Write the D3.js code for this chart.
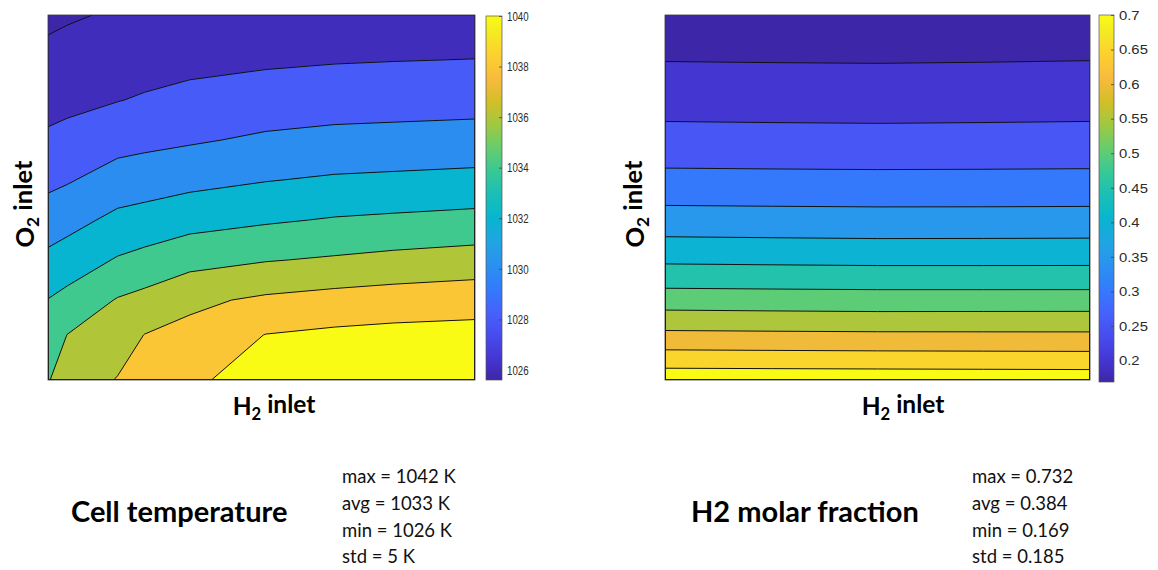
<!DOCTYPE html>
<html>
<head>
<meta charset="utf-8">
<script src="https://cdn.jsdelivr.net/npm/d3@7"></script>
<style>
  body { margin: 0; background: #fff; }
  svg { display: block; }
</style>
</head>
<body>
<svg id="chart" width="1158" height="570"></svg>
<script>
// ---------------------------------------------------------------
// Cell temperature [K] on the cell plane.
// Columns: position from the H2-inlet side (0) to the far side (1).
// Rows: position from the top edge (0) down to the O2-inlet edge (1).
// ---------------------------------------------------------------
const tempCols = [0, 0.045, 0.163, 0.226, 0.332, 0.510, 0.671, 0.809, 1];
const tempRows = [0, 0.123, 0.233, 0.342, 0.452, 0.562, 0.671, 0.781, 0.877, 1];
const tempValues = [
  [1025.6, 1025.8, 1026.2, 1026.27, 1026.4, 1026.6, 1026.7, 1026.75, 1026.8],
  [1026.5, 1026.68, 1027.12, 1027.25, 1027.47, 1027.71, 1027.87, 1027.95, 1028.03],
  [1027.36, 1027.53, 1027.94, 1028.18, 1028.54, 1028.92, 1029.13, 1029.21, 1029.30],
  [1028.31, 1028.56, 1029.30, 1029.50, 1029.78, 1030.29, 1030.54, 1030.63, 1030.77],
  [1029.54, 1029.83, 1030.83, 1031.05, 1031.43, 1031.92, 1032.24, 1032.37, 1032.55],
  [1030.94, 1031.34, 1032.49, 1032.76, 1033.29, 1033.77, 1034.15, 1034.34, 1034.59],
  [1032.48, 1032.93, 1034.16, 1034.59, 1035.32, 1035.89, 1036.22, 1036.53, 1036.85],
  [1034.05, 1034.58, 1036.13, 1036.59, 1037.60, 1038.33, 1038.72, 1038.96, 1039.20],
  [1034.86, 1036.03, 1037.02, 1038.04, 1038.54, 1040.05, 1040.38, 1040.55, 1040.64],
  [1035.9, 1036.8, 1038.1, 1038.65, 1039.6, 1041.0, 1041.8, 1042.0, 1042.0]
];
const tempLevels = [1026, 1028, 1030, 1032, 1034, 1036, 1038, 1040];
const tempColorRange = [1025.6, 1040];
const tempTicks = [1026, 1028, 1030, 1032, 1034, 1036, 1038, 1040];
const tempStats = ["max = 1042 K", "avg = 1033 K", "min = 1026 K", "std = 5 K"];

// ---------------------------------------------------------------
// H2 molar fraction [-] on the same plane.
// ---------------------------------------------------------------
const h2Cols = [0, 0.25, 0.5, 0.75, 1];
const h2Rows = [0, 0.096, 0.233, 0.370, 0.479, 0.573, 0.652, 0.721, 0.784, 0.841, 0.896, 0.945, 0.986, 1];
const h2Values = [
  [0.1700, 0.1695, 0.1690, 0.1700, 0.1710],
  [0.1913, 0.1905, 0.1900, 0.1908, 0.1920],
  [0.2293, 0.2283, 0.2276, 0.2285, 0.2297],
  [0.2776, 0.2765, 0.2757, 0.2763, 0.2772],
  [0.3270, 0.3260, 0.3252, 0.3254, 0.3259],
  [0.3777, 0.3762, 0.3750, 0.3752, 0.3758],
  [0.4288, 0.4268, 0.4250, 0.4252, 0.4257],
  [0.4777, 0.4762, 0.4750, 0.4748, 0.4747],
  [0.5286, 0.5266, 0.5250, 0.5252, 0.5255],
  [0.5786, 0.5766, 0.5750, 0.5752, 0.5755],
  [0.6289, 0.6275, 0.6263, 0.6256, 0.6250],
  [0.6773, 0.6757, 0.6743, 0.6735, 0.6727],
  [0.7183, 0.7175, 0.7168, 0.7159, 0.7150],
  [0.7320, 0.7320, 0.7320, 0.7310, 0.7300]
];
const h2Levels = [0.2, 0.25, 0.3, 0.35, 0.4, 0.45, 0.5, 0.55, 0.6, 0.65, 0.7];
const h2ColorRange = [0.169, 0.70];
const h2Ticks = [0.2, 0.25, 0.3, 0.35, 0.4, 0.45, 0.5, 0.55, 0.6, 0.65, 0.7];
const h2Stats = ["max = 0.732", "avg = 0.384", "min = 0.169", "std = 0.185"];

// Parula colour map, sampled every 4th step of the 64-entry table
const parulaStops = ["#3e26a8", "#4537d5", "#484df0", "#4563fd", "#327cfc", "#2b91ef",
  "#20a5e3", "#08b5d0", "#19bfb6", "#37c897", "#64cd6f", "#9dc943", "#d1bf27",
  "#f8ba3d", "#fccf30", "#f5e924", "#f9fb15"];
const parulaPos = [0, 4, 8, 12, 16, 20, 24, 28, 32, 36, 40, 44, 48, 52, 56, 60, 63].map(i => i / 63);
const parula = d3.scaleLinear().domain(parulaPos).range(parulaStops)
  .interpolate(d3.interpolateRgb).clamp(true);

const svg = d3.select("#chart");
const TEXT_FONT = "Lato, 'Open Sans', sans-serif";
const TICK_FONT = "'Liberation Sans', Arial, sans-serif";

function subLabel(sel, main, sub, rest) {
  sel.append("tspan").text(main);
  sel.append("tspan").attr("font-size", "0.68em").attr("dy", "0.28em").text(sub);
  sel.append("tspan").attr("dy", "-0.28em").text(rest);
}

function drawPanel(cfg) {
  const { id, box, cols, rows, values, levels, colorRange, ticks, tick, bar } = cfg;
  const g = svg.append("g").attr("id", id);
  const nx = cols.length, ny = rows.length;
  const flat = values.flat();

  // plane coordinates -> pixels
  const x = d3.scaleLinear().domain([0, 1]).range([box.x0, box.x1]);
  const y = d3.scaleLinear().domain([0, 1]).range([box.y0, box.y1]);
  // grid index -> plane coordinate (non-uniform mesh)
  const colAt = d3.scaleLinear().domain(d3.range(nx)).range(cols).clamp(true);
  const rowAt = d3.scaleLinear().domain(d3.range(ny)).range(rows).clamp(true);

  const project = d3.geoTransform({
    point(gx, gy) { this.stream.point(x(colAt(gx - 0.5)), y(rowAt(gy - 0.5))); }
  });
  const path = d3.geoPath(project);

  const color = d3.scaleLinear().domain(colorRange).range([0, 1]).clamp(true);
  const base = d3.min(flat);
  const thresholds = [base].concat(levels);
  const bands = d3.contours().size([nx, ny]).thresholds(thresholds)(flat);

  const clipId = id + "-clip";
  g.append("clipPath").attr("id", clipId).append("rect")
    .attr("x", box.x0).attr("y", box.y0)
    .attr("width", box.x1 - box.x0).attr("height", box.y1 - box.y0);

  const plot = g.append("g").attr("clip-path", `url(#${clipId})`);
  plot.selectAll("path.band").data(bands).join("path")
    .attr("class", "band")
    .attr("d", path)
    .attr("fill", d => parula(color(d.value)))
    .attr("stroke", d => parula(color(d.value)))
    .attr("stroke-width", 0.5);
  plot.selectAll("path.iso").data(bands.slice(1)).join("path")
    .attr("class", "iso")
    .attr("d", path)
    .attr("fill", "none")
    .attr("stroke", "#111")
    .attr("stroke-width", 1)
    .attr("stroke-linejoin", "round");

  g.append("rect")
    .attr("x", box.x0).attr("y", box.y0)
    .attr("width", box.x1 - box.x0).attr("height", box.y1 - box.y0)
    .attr("fill", "none").attr("stroke", "#3a3a3a").attr("stroke-width", 0.8);

  // colour bar
  const cb = d3.scaleLinear().domain(colorRange).range([bar.y1, bar.y0]);
  const gradId = id + "-grad";
  const grad = g.append("defs").append("linearGradient").attr("id", gradId)
    .attr("x1", 0).attr("y1", 1).attr("x2", 0).attr("y2", 0);
  grad.selectAll("stop").data(parulaPos).join("stop")
    .attr("offset", d => d)
    .attr("stop-color", (d, i) => parulaStops[i]);
  g.append("rect")
    .attr("x", bar.x0).attr("y", bar.y0)
    .attr("width", bar.x1 - bar.x0).attr("height", bar.y1 - bar.y0)
    .attr("fill", `url(#${gradId})`)
    .attr("stroke", "#555").attr("stroke-width", 0.7);

  const axis = d3.axisRight(cb).tickValues(ticks)
    .tickFormat(d => String(+d.toFixed(2)))
    .tickSizeInner(-3).tickSizeOuter(0).tickPadding(5);
  const ag = g.append("g").attr("transform", `translate(${bar.x1},0)`).call(axis);
  ag.select(".domain").remove();
  ag.selectAll(".tick line").attr("stroke", "#444").attr("stroke-width", 0.8);
  ag.selectAll(".tick text")
    .attr("font-family", TICK_FONT).attr("font-size", tick.size).attr("fill", "#2b2b2b")
    .attr("transform", `scale(${tick.scaleX},1)`)
    .attr("x", 5 / tick.scaleX);

  // axis titles
  const xt = g.append("text")
    .attr("x", cfg.xTitle.x).attr("y", cfg.xTitle.y)
    .attr("text-anchor", "middle")
    .attr("font-family", TEXT_FONT).attr("font-weight", 700).attr("font-size", 24.5)
    .attr("fill", "#000");
  subLabel(xt, "H", "2", " inlet");

  const yt = g.append("text")
    .attr("transform", `translate(${cfg.yTitle.x},${cfg.yTitle.y}) rotate(-90)`)
    .attr("text-anchor", "middle")
    .attr("font-family", TEXT_FONT).attr("font-weight", 700).attr("font-size", 25.5)
    .attr("fill", "#000");
  subLabel(yt, "O", "2", " inlet");

  // caption and summary statistics
  g.append("text")
    .attr("x", cfg.caption.x).attr("y", cfg.caption.y)
    .attr("font-family", TEXT_FONT).attr("font-weight", 700).attr("font-size", 29)
    .attr("fill", "#000").text(cfg.caption.text);
  g.append("g").selectAll("text").data(cfg.stats).join("text")
    .attr("x", cfg.statsPos.x)
    .attr("y", (d, i) => cfg.statsPos.y + i * 26.8)
    .attr("font-family", TEXT_FONT).attr("font-size", 18.5)
    .attr("fill", "#111").text(d => d);
}

drawPanel({
  id: "temperature",
  box: { x0: 48, x1: 475, y0: 15, y1: 380 },
  bar: { x0: 486, x1: 502, y0: 16, y1: 380 },
  cols: tempCols, rows: tempRows, values: tempValues,
  levels: tempLevels, colorRange: tempColorRange, ticks: tempTicks,
  tick: { size: 13.5, scaleX: 0.72 },
  xTitle: { x: 274, y: 415 },
  yTitle: { x: 34, y: 204 },
  caption: { x: 71, y: 522, text: "Cell temperature" },
  stats: tempStats, statsPos: { x: 342, y: 483 }
});

drawPanel({
  id: "h2fraction",
  box: { x0: 665, x1: 1090, y0: 15, y1: 380 },
  bar: { x0: 1099, x1: 1114, y0: 15, y1: 382 },
  cols: h2Cols, rows: h2Rows, values: h2Values,
  levels: h2Levels, colorRange: h2ColorRange, ticks: h2Ticks,
  tick: { size: 13.5, scaleX: 1.1 },
  xTitle: { x: 903, y: 415 },
  yTitle: { x: 644, y: 204 },
  caption: { x: 691, y: 522, text: "H2 molar fraction" },
  stats: h2Stats, statsPos: { x: 972, y: 483 }
});
</script>
</body>
</html>
